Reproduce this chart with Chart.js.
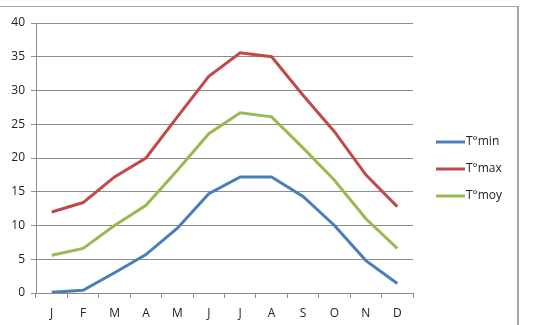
<!DOCTYPE html>
<html>
<head>
<script src="https://cdn.jsdelivr.net/npm/chart.js@4.4.1/dist/chart.umd.min.js"></script>
<style>
	html,body{margin:0;padding:0;background:#fff;}
	#wrap{position:relative;width:543px;height:325px;}
	#frame{position:absolute;left:-2px;top:6px;width:519px;height:330px;border-top:1px solid #a6a6a6;border-right:2px solid #a6a6a6;}
	#plot{position:absolute;left:0;top:0;}
</style>
</head>
<body>
<div id="wrap">
	<div id="frame"></div>
	<canvas id="plot" width="543" height="325"></canvas>
</div>
<script>
	months=["J","F","M","A","M","J","J","A","S","O","N","D"];
	tmin=[0.1,0.4,3.0,5.7,9.6,14.7,17.2,17.2,14.3,10.0,4.8,1.4];
	tmax=[12.0,13.4,17.2,20.0,26.1,32.1,35.6,35.0,29.3,23.9,17.5,12.8];
	tmoy=[5.6,6.6,10.0,13.0,18.2,23.6,26.7,26.1,21.5,16.7,11.0,6.6];
	seriesNames=["T°min","T°max","T°moy"];
	colors=["#4a7ebb","#be4b48","#98b954"];
	yTicks=[0,5,10,15,20,25,30,35,40];

	fontName="'Open Sans', 'Liberation Sans', sans-serif";

	// legend drawn by hand, Excel style
	legendPlugin={
		id:"sideLegend",
		afterDraw:function(chart){
			var ctx=chart.ctx;
			ctx.save();
			ctx.font="12px "+fontName;
			ctx.textBaseline="middle";
			chart.data.datasets.forEach(function(ds,i){
				var y=142+i*27;
				ctx.strokeStyle=ds.borderColor;
				ctx.lineWidth=3;
				ctx.beginPath();
				ctx.moveTo(436,y);
				ctx.lineTo(465,y);
				ctx.stroke();
				ctx.fillStyle="#222";
				ctx.fillText(ds.label,466,y);
			});
			ctx.restore();
		}
	};

	function mkSet(i,vals){
		return {label:seriesNames[i],data:vals,borderColor:colors[i],backgroundColor:colors[i],
			borderWidth:3,pointRadius:0,tension:0,fill:false};
	}

	const myChart=new Chart(document.getElementById("plot"),{
		type:"line",
		data:{labels:months,datasets:[mkSet(0,tmin),mkSet(1,tmax),mkSet(2,tmoy)]},
		options:{
			responsive:false,
			animation:false,
			layout:{padding:{left:0,top:23,right:130,bottom:0}},
			plugins:{legend:{display:false},tooltip:{enabled:false}},
			scales:{
				x:{
					offset:true,
					grid:{display:true,offset:true,drawOnChartArea:false,drawTicks:true,tickLength:5,color:"#8c8c8c"},
					border:{color:"#8c8c8c"},
					ticks:{color:"#222",font:{family:fontName,size:12},padding:8,maxRotation:0,autoSkip:false},
					afterFit:function(s){s.height=32;}
				},
				y:{
					min:0,max:40,
					afterBuildTicks:function(s){s.ticks=yTicks.map(function(v){return {value:v};});},
					grid:{color:"#8c8c8c",tickLength:5},
					border:{color:"#8c8c8c"},
					ticks:{color:"#222",font:{family:fontName,size:12},padding:6},
					afterFit:function(s){s.width=36;}
				}
			}
		},
		plugins:[legendPlugin]
	});
</script>
</body>
</html>
